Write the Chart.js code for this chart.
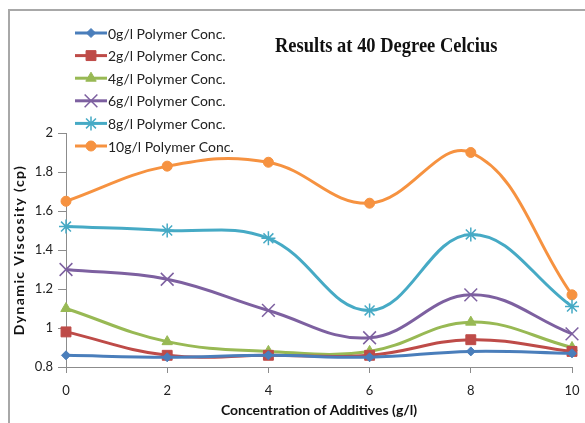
<!DOCTYPE html>
<html>
<head>
<meta charset="utf-8">
<script src="https://cdn.jsdelivr.net/npm/chart.js@4.4.0/dist/chart.umd.min.js"></script>
<style>
  html, body { margin: 0; padding: 0; background: #fff; }
  #wrap { width: 585px; height: 423px; }
</style>
</head>
<body>
<div id="wrap"><canvas id="c" width="585" height="423"></canvas></div>
<script>
// Additive concentration (g/l) on the x axis
const additives = [0, 2, 4, 6, 8, 10];

// Dynamic viscosity (cp) for each polymer concentration
const poly0  = [0.86, 0.85, 0.86, 0.85, 0.88, 0.87];
const poly2  = [0.98, 0.86, 0.86, 0.86, 0.94, 0.88];
const poly4  = [1.10, 0.93, 0.88, 0.88, 1.03, 0.90];
const poly6  = [1.30, 1.25, 1.09, 0.95, 1.17, 0.97];
const poly8  = [1.52, 1.50, 1.46, 1.09, 1.48, 1.11];
const poly10 = [1.65, 1.83, 1.85, 1.64, 1.90, 1.17];

const seriesNames = [
  '0g/l Polymer Conc.', '2g/l Polymer Conc.', '4g/l Polymer Conc.',
  '6g/l Polymer Conc.', '8g/l Polymer Conc.', '10g/l Polymer Conc.'
];

const xTicks = [0, 2, 4, 6, 8, 10];
const yTicks = [0.8, 1, 1.2, 1.4, 1.6, 1.8, 2];

const chartTitle = 'Results at 40 Degree Celcius';
const xTitle = 'Concentration of Additives (g/l)';
const yTitle = 'Dynamic Viscosity (cp)';

const styles = [
  { color: '#4A7EBB', point: 'rectRot',  radius: 4.5, bw: 1 },
  { color: '#BE4B48', point: 'rect',     radius: 7,   bw: 1 },
  { color: '#98B954', point: 'triangle', radius: 6,   bw: 1 },
  { color: '#7D60A0', point: 'crossRot', radius: 9,   bw: 1.5 },
  { color: '#46AAC5', point: 'star',     radius: 7,   bw: 1.5 },
  { color: '#F69240', point: 'circle',   radius: 5,   bw: 1 }
];

const seriesValues = [poly0, poly2, poly4, poly6, poly8, poly10];

const datasets = seriesValues.map((vals, i) => ({
  label: seriesNames[i],
  data: vals.map((v, k) => ({ x: additives[k], y: v })),
  borderColor: styles[i].color,
  backgroundColor: styles[i].color,
  pointBackgroundColor: styles[i].color,
  pointBorderColor: styles[i].color,
  pointStyle: styles[i].point,
  pointRadius: styles[i].radius,
  pointBorderWidth: styles[i].bw,
  borderWidth: 3,
  tension: 0.4,
  fill: false,
  clip: false
}));

// Outer frame, title, y-axis caption and legend drawn onto the canvas
const decorations = {
  id: 'decorations',
  beforeDraw(chart) {
    const ctx = chart.ctx;
    ctx.save();
    ctx.fillStyle = '#fff';
    ctx.fillRect(0, 0, chart.width, chart.height);
    ctx.strokeStyle = '#a8a8a8';
    ctx.lineWidth = 2;
    ctx.beginPath();
    ctx.moveTo(9, chart.height);
    ctx.lineTo(9, 10);
    ctx.lineTo(chart.width, 10);
    ctx.stroke();
    ctx.restore();
  },
  afterDraw(chart) {
    const ctx = chart.ctx;
    ctx.save();

    // chart heading, a condensed bold serif
    ctx.save();
    ctx.translate(275, 52);
    ctx.scale(0.88, 1);
    ctx.fillStyle = '#111';
    ctx.font = 'bold 21px "Liberation Serif"';
    ctx.textAlign = 'left';
    ctx.textBaseline = 'alphabetic';
    ctx.fillText(chartTitle, 0, 0);
    ctx.restore();

    // y-axis caption, spaced bold
    const area = chart.chartArea;
    ctx.save();
    ctx.translate(24, (area.top + area.bottom) / 2);
    ctx.rotate(-Math.PI / 2);
    ctx.fillStyle = '#111';
    ctx.font = 'bold 14px Lato';
    ctx.letterSpacing = '1.4px';
    ctx.textAlign = 'center';
    ctx.textBaseline = 'alphabetic';
    ctx.fillText(yTitle, 0, 0);
    ctx.restore();

    chart.data.datasets.forEach((ds, i) => {
      const y = 33 + i * 22.6;
      ctx.strokeStyle = ds.borderColor;
      ctx.lineWidth = 3;
      ctx.beginPath();
      ctx.moveTo(75, y);
      ctx.lineTo(107, y);
      ctx.stroke();
      ctx.fillStyle = ds.borderColor;
      ctx.strokeStyle = ds.borderColor;
      ctx.lineWidth = ds.pointBorderWidth;
      Chart.helpers.drawPoint(ctx, {
        pointStyle: ds.pointStyle,
        radius: ds.pointRadius,
        rotation: 0,
        borderWidth: ds.pointBorderWidth
      }, 91, y);
      ctx.fillStyle = '#222';
      ctx.font = '14px Lato';
      ctx.textAlign = 'left';
      ctx.textBaseline = 'middle';
      ctx.fillText(ds.label, 108, y + 1);
    });
    ctx.restore();
  }
};

new Chart(document.getElementById('c'), {
  type: 'line',
  data: { datasets },
  plugins: [decorations],
  options: {
    responsive: false,
    animation: false,
    layout: { padding: { top: 133, right: 13, left: 0, bottom: 0 } },
    plugins: {
      legend: { display: false },
      title: { display: false },
      tooltip: { enabled: false }
    },
    scales: {
      x: {
        type: 'linear',
        min: 0,
        max: 10,
        afterBuildTicks: s => { s.ticks = xTicks.map(v => ({ value: v })); },
        afterFit: s => { s.height = 56; s.paddingLeft = 0; s.paddingRight = 0; },
        ticks: {
          color: '#222',
          font: { family: 'Lato', size: 13 },
          padding: 10,
          maxRotation: 0
        },
        grid: {
          drawOnChartArea: false,
          drawTicks: true,
          tickLength: 6,
          color: '#8c8c8c'
        },
        border: { display: true, color: '#8c8c8c', width: 1 },
        title: {
          display: true,
          text: xTitle,
          color: '#111',
          font: { family: 'Lato', size: 14, weight: 'bold' },
          padding: { top: 0, bottom: 4 }
        }
      },
      y: {
        type: 'linear',
        min: 0.8,
        max: 2,
        afterBuildTicks: s => { s.ticks = yTicks.map(v => ({ value: v })); },
        afterFit: s => { s.width = 66; },
        ticks: {
          color: '#222',
          font: { family: 'Lato', size: 13 },
          padding: 5,
          callback: v => String(+v.toFixed(1))
        },
        grid: {
          drawOnChartArea: false,
          drawTicks: true,
          tickLength: 8,
          color: '#8c8c8c'
        },
        border: { display: true, color: '#8c8c8c', width: 1 },
        title: { display: false }
      }
    }
  }
});
</script>
</body>
</html>
